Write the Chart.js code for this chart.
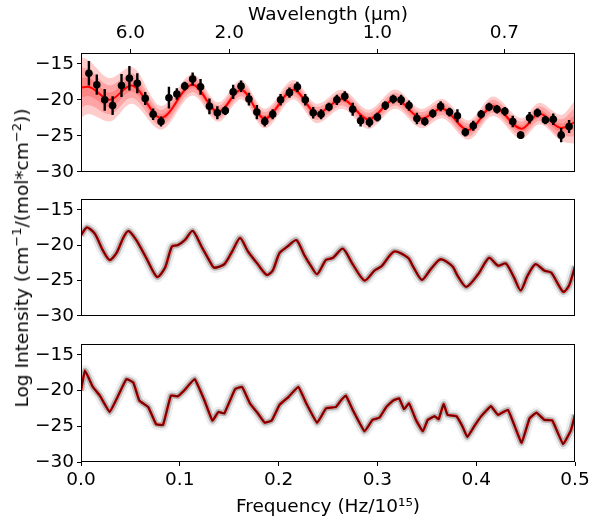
<!DOCTYPE html>
<html>
<head>
<meta charset="utf-8">
<script src="https://cdn.jsdelivr.net/npm/chart.js@4/dist/chart.umd.min.js"></script>
<style>
body{margin:0;background:#fff;}
#wrap{position:relative;width:604px;height:522px;overflow:hidden;font-family:'DejaVu Sans',sans-serif;color:#000;}
canvas{position:absolute;left:0;}
#ylab{position:absolute;left:22px;top:258px;transform:translate(-50%,-50%) rotate(-90deg);white-space:nowrap;font-size:18.5px;line-height:22px;}
#ylab sup{font-size:13px;vertical-align:7px;line-height:0;}
</style>
</head>
<body>
<div id="wrap">
  <canvas id="c1" width="604" height="186" style="top:0px"></canvas>
  <canvas id="c2" width="604" height="145" style="top:185px"></canvas>
  <canvas id="c3" width="604" height="192" style="top:330px"></canvas>
  <div id="ylab">Log Intensity (cm<sup>−1</sup>/(mol*cm<sup>−2</sup>))</div>
</div>
<script>
// observed spectrum (top panel)
var obsFreq = [0.008,0.016,0.024,0.032,0.041,0.049,0.057,0.065,0.073,0.081,
  0.089,0.097,0.105,0.113,0.121,0.130,0.138,0.146,0.154,0.162,
  0.170,0.178,0.186,0.194,0.202,0.211,0.219,0.227,0.235,0.243,
  0.251,0.259,0.267,0.275,0.283,0.292,0.300,0.308,0.316,0.324,
  0.332,0.340,0.348,0.356,0.364,0.373,0.381,0.389,0.397,0.405,
  0.413,0.421,0.429,0.437,0.445,0.454,0.462,0.470,0.478,0.486,0.494];
var obsVal = [-16.3,-17.9,-20.0,-20.8,-18.0,-17.0,-17.7,-19.8,-22.0,-23.0,
  -19.7,-19.2,-18.1,-17.1,-18.2,-20.9,-21.8,-21.5,-18.9,-18.1,
  -19.9,-21.7,-23.0,-22.0,-20.0,-19.0,-18.2,-20.0,-21.8,-22.0,
  -21.0,-20.0,-19.5,-21.3,-22.9,-23.1,-22.4,-20.8,-19.9,-20.0,
  -20.8,-22.6,-23.0,-21.9,-20.9,-21.7,-22.2,-24.5,-23.6,-22.0,
  -21.0,-21.3,-21.6,-23.0,-24.9,-22.5,-21.8,-22.8,-22.7,-24.9,-23.7];
var obsErr = [1.7,1.4,1.5,1.3,1.6,1.7,1.4,0.9,0.8,0.7,
  1.5,0.8,0.6,0.9,1.1,1.1,0.9,0.6,1.0,0.8,
  0.9,1.0,0.7,0.7,0.8,0.7,0.7,0.8,0.8,0.7,
  0.6,0.7,0.7,0.9,0.8,0.7,0.6,0.6,0.6,0.7,
  0.7,0.8,0.6,0.6,0.7,0.6,0.9,0.6,0.7,0.6,
  0.6,0.6,0.6,0.8,0.5,0.8,0.6,0.6,0.8,1.0,0.9];

// fitted model and its sigma
var fitFreq = [0,0.007,0.029,0.051,0.081,0.113,0.139,0.162,0.186,0.215,0.239,
  0.264,0.291,0.318,0.345,0.365,0.392,0.417,0.446,0.464,0.486,0.5];
var fitVal = [-18.3,-18.2,-20.0,-18.0,-22.5,-17.9,-21.7,-18.6,-22.6,-18.6,-21.9,
  -19.9,-22.7,-19.9,-22.6,-21.2,-24.2,-20.9,-24.0,-21.9,-23.9,-23.1];
var fitSig = [1.4,1.25,1.0,0.85,0.55,0.5,0.45,0.45,0.45,0.45,0.45,
  0.45,0.45,0.45,0.45,0.45,0.45,0.45,0.48,0.5,0.6,1.0];

// middle panel curve
var midFreq = [0,0.006,0.014,0.022,0.029,0.036,0.043,0.048,0.056,0.066,
  0.077,0.085,0.092,0.098,0.105,0.113,0.122,0.132,0.135,0.145,
  0.153,0.161,0.169,0.179,0.188,0.194,0.201,0.209,0.218,0.226,
  0.233,0.239,0.248,0.255,0.265,0.275,0.287,0.297,0.304,0.317,
  0.331,0.336,0.345,0.354,0.364,0.376,0.381,0.390,0.402,0.413,
  0.422,0.430,0.438,0.445,0.452,0.460,0.469,0.476,0.488,0.494,0.5];
var midVal = [-18.6,-17.5,-18.4,-20.7,-22.1,-21.1,-18.9,-18.0,-19.3,-21.8,
  -24.5,-23.2,-20.2,-20.0,-19.3,-18.0,-20.2,-22.7,-23.2,-22.7,
  -20.9,-19.0,-20.9,-22.7,-24.2,-23.6,-21.1,-20.2,-19.3,-21.4,
  -23.0,-24.1,-22.1,-21.8,-20.5,-22.7,-25.0,-23.6,-23.0,-20.9,
  -21.8,-23.0,-24.9,-23.4,-22.0,-23.0,-24.3,-25.9,-24.1,-21.8,
  -22.9,-22.6,-24.5,-26.4,-24.3,-22.7,-23.6,-23.9,-26.6,-25.7,-23.0];

// bottom panel curve
var botFreq = [0,0.004,0.012,0.019,0.029,0.037,0.046,0.053,0.059,0.068,
  0.076,0.083,0.091,0.098,0.105,0.115,0.125,0.133,0.139,0.145,
  0.156,0.163,0.171,0.179,0.186,0.193,0.201,0.210,0.220,0.228,
  0.239,0.248,0.258,0.263,0.268,0.275,0.287,0.295,0.302,0.309,
  0.316,0.322,0.327,0.332,0.339,0.346,0.351,0.358,0.362,0.367,
  0.371,0.380,0.386,0.391,0.398,0.405,0.415,0.422,0.432,0.439,
  0.446,0.454,0.461,0.469,0.477,0.488,0.496,0.5];
var botVal = [-20.0,-17.2,-19.5,-20.7,-23.0,-20.9,-18.4,-18.9,-21.4,-22.3,
  -24.7,-24.8,-20.7,-20.8,-19.9,-18.4,-21.4,-24.2,-23.0,-23.2,
  -19.8,-19.5,-21.8,-23.2,-24.5,-24.2,-22.0,-20.9,-19.5,-21.8,
  -24.5,-22.5,-22.3,-21.4,-20.7,-22.7,-25.7,-24.1,-23.8,-22.3,
  -21.4,-21.1,-22.6,-21.8,-24.1,-25.7,-24.1,-23.6,-24.0,-21.9,
  -23.4,-23.6,-25.0,-26.5,-25.0,-23.6,-22.2,-23.4,-22.7,-25.0,
  -27.3,-23.9,-23.1,-24.1,-24.2,-27.5,-25.5,-23.4];

var freqTicks = [0, 0.1, 0.2, 0.3, 0.4, 0.5];
var waveTicks = [6.0, 2.0, 1.0, 0.7];   // micrometres
var C_UM = 0.3;                         // c in (um * 1e15 Hz)

Chart.defaults.font.family = "'DejaVu Sans', sans-serif";
Chart.defaults.font.size = 18.5;
Chart.defaults.color = '#000';

var boxPlugin = {
  id: 'box',
  afterDraw: function(chart){
    var a = chart.chartArea, c = chart.ctx;
    c.save();
    c.strokeStyle = '#000'; c.lineWidth = 1;
    c.strokeRect(Math.round(a.left)+0.5, Math.round(a.top)+0.5,
      Math.round(a.right-a.left)-1, Math.round(a.bottom-a.top)-1);
    c.restore();
  }
};

function pts(xs, ys){ return xs.map(function(x,i){ return {x:x, y:ys[i]}; }); }
function minus(v){ return String(v).replace('-', '\u2212'); }

function yScale(){
  return {
    type:'linear', min:-30, max:-13.5,
    afterFit: function(s){ s.width = 81; },
    grid:{drawOnChartArea:false, tickLength:4, color:'#000', lineWidth:1},
    border:{display:false},
    ticks:{stepSize:5, includeBounds:false, padding:3, callback:minus}
  };
}
function xHidden(){ return {type:'linear', min:0, max:0.5, display:false}; }

function baseOptions(scales, pad){
  return {
    responsive:false, animation:false,
    layout:{padding:pad},
    plugins:{legend:{display:false}, tooltip:{enabled:false}},
    elements:{point:{radius:0}},
    scales:scales
  };
}

// ---- top panel ----
function bandPair(k, color, ord){
  var up = fitFreq.map(function(x,i){ return {x:x, y:fitVal[i]+k*fitSig[i]}; });
  var lo = fitFreq.map(function(x,i){ return {x:x, y:fitVal[i]-k*fitSig[i]}; });
  return [
    {data:up, borderWidth:0, cubicInterpolationMode:'monotone', fill:false, order:ord},
    {data:lo, borderWidth:0, cubicInterpolationMode:'monotone', fill:'-1', backgroundColor:color, order:ord}
  ];
}
var errData = [];
obsFreq.forEach(function(x,i){
  errData.push({x:x, y:obsVal[i]-obsErr[i]}, {x:x, y:obsVal[i]+obsErr[i]}, {x:x, y:null});
});
var topSets = [].concat(
  bandPair(3, 'rgba(255,0,0,0.2)', 6),
  bandPair(2, 'rgba(255,0,0,0.2)', 5),
  bandPair(1, 'rgba(255,0,0,0.2)', 4),
  [{data:pts(fitFreq, fitVal), borderColor:'#ff0000', borderWidth:2, cubicInterpolationMode:'monotone', fill:false, order:3},
   {data:errData, borderColor:'#000', borderWidth:2.4, spanGaps:false, fill:false, order:2},
   {data:pts(obsFreq, obsVal), showLine:false, pointRadius:3.8, pointBackgroundColor:'#000', pointBorderWidth:0, order:1}]
);
new Chart(document.getElementById('c1'), {
  type:'line',
  data:{datasets:topSets},
  options:baseOptions({
    x:xHidden(),
    x2:{type:'linear', position:'top', min:0, max:0.5,
      afterFit:function(s){ s.height = 53; },
      afterBuildTicks:function(s){ s.ticks = waveTicks.map(function(w){ return {value:C_UM/w}; }); },
      grid:{drawOnChartArea:false, tickLength:4, color:'#000'},
      border:{display:false},
      ticks:{padding:5, maxRotation:0, callback:function(v){ return (C_UM/v).toFixed(1); }},
      title:{display:true, text:'Wavelength (\u00b5m)', padding:{top:4, bottom:2}}},
    y:yScale()
  }, {left:0, right:29, top:0, bottom:13}),
  plugins:[boxPlugin]
});

// ---- middle / bottom panels ----
function sampleSets(xs, ys, tension){
  var d = pts(xs, ys);
  return [
    {data:d, borderColor:'rgba(0,0,0,0.07)', borderWidth:11, tension:tension, order:5},
    {data:d, borderColor:'rgba(0,0,0,0.24)', borderWidth:6, tension:tension, order:4},
    {data:d, borderColor:'#ff0000', borderWidth:2.5, tension:tension, order:3},
    {data:d, borderColor:'rgba(20,0,0,0.6)', borderWidth:1.8, tension:tension, order:2}
  ];
}
new Chart(document.getElementById('c2'), {
  type:'line',
  data:{datasets:sampleSets(midFreq, midVal, 0.25)},
  options:baseOptions({x:xHidden(), y:yScale()}, {left:0, right:29, top:12, bottom:13}),
  plugins:[boxPlugin]
});
new Chart(document.getElementById('c3'), {
  type:'line',
  data:{datasets:sampleSets(botFreq, botVal, 0.1)},
  options:baseOptions({
    x:{type:'linear', min:0, max:0.5,
      afterFit:function(s){ s.height = 60; },
      afterBuildTicks:function(s){ s.ticks = freqTicks.map(function(v){ return {value:v}; }); },
      grid:{drawOnChartArea:false, tickLength:4, color:'#000'},
      border:{display:false},
      ticks:{padding:3, maxRotation:0, callback:function(v){ return v.toFixed(1); }},
      title:{display:true, text:'Frequency (Hz/10\u00b9\u2075)', padding:{top:4, bottom:4}}},
    y:yScale()
  }, {left:0, right:29, top:12, bottom:0}),
  plugins:[boxPlugin]
});
</script>
</body>
</html>
